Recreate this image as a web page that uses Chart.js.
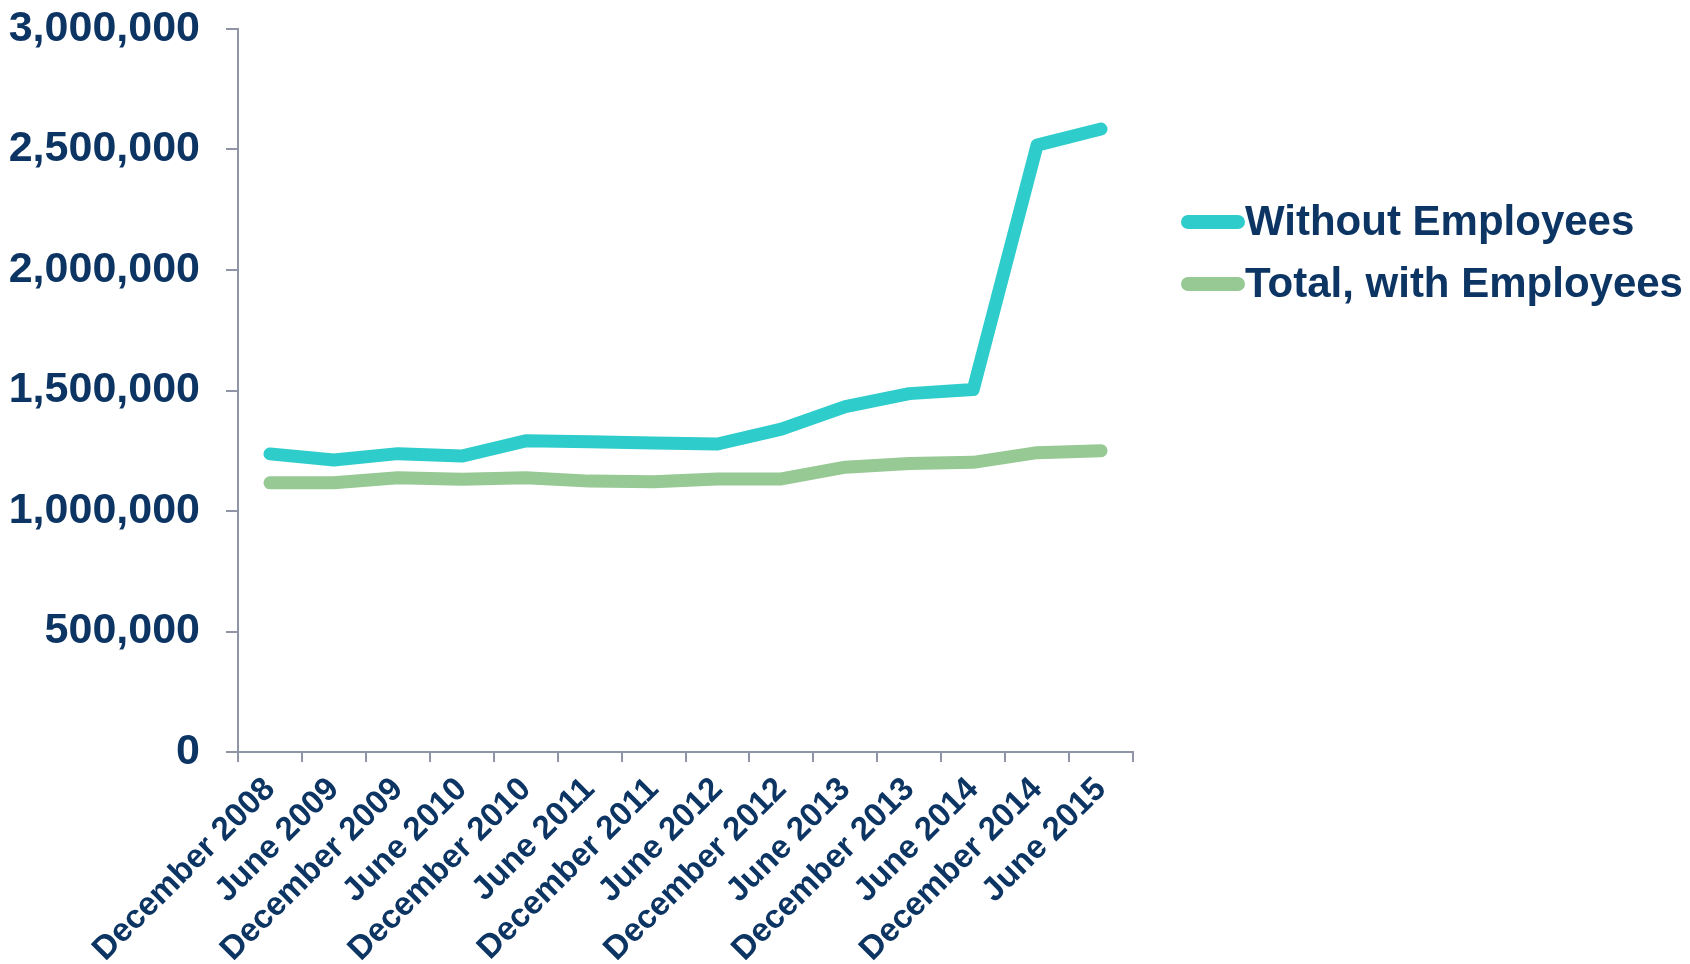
<!DOCTYPE html>
<html>
<head>
<meta charset="utf-8">
<script src="https://cdn.jsdelivr.net/npm/chart.js@4/dist/chart.umd.min.js"></script>
<style>
    html, body { margin: 0; padding: 0; background: #fff; }
    #wrap { width: 1690px; height: 964px; position: relative; }
</style>
</head>
<body>
<div id="wrap"><canvas id="employeesChart"></canvas></div>
<script>
// periods on the x axis
const periods = ['December 2008', 'June 2009', 'December 2009', 'June 2010', 'December 2010', 'June 2011',
    'December 2011', 'June 2012', 'December 2012', 'June 2013', 'December 2013', 'June 2014', 'December 2014', 'June 2015'];

// series values
const withoutEmployees = [1237000, 1212000, 1238000, 1228000, 1291000, 1287000, 1282000, 1278000, 1340000, 1433000, 1487000, 1504000, 2518000, 2585000];
const totalWithEmployees = [1117000, 1117000, 1138000, 1132000, 1138000, 1124000, 1121000, 1133000, 1133000, 1182000, 1197000, 1202000, 1242000, 1250000];

// y axis range
const yMin = 0;
const yMax = 3000000;
const yStep = 500000;

const navy = '#0d3563';
const axisGrey = '#8f94a6';
const fontFamily = '"Liberation Sans", Arial, sans-serif';

// legend drawn on the right of the plot
const sideLegend = {
    id: 'sideLegend',
    afterDraw(chart) {
        const ctx = chart.ctx;
        const x0 = 1181, lineLen = 64, rowGap = 62;
        let y = 222;
        ctx.save();
        chart.data.datasets.forEach(ds => {
            ctx.strokeStyle = ds.borderColor;
            ctx.lineWidth = 14;
            ctx.lineCap = 'round';
            ctx.beginPath();
            ctx.moveTo(x0 + 7, y);
            ctx.lineTo(x0 + lineLen - 7, y);
            ctx.stroke();
            ctx.fillStyle = navy;
            ctx.font = 'bold 42px ' + fontFamily;
            ctx.textBaseline = 'middle';
            ctx.textAlign = 'left';
            ctx.fillText(ds.label, x0 + lineLen, y + 1);
            y += rowGap;
        });
        ctx.restore();
    }
};

const ctx = document.getElementById('employeesChart').getContext('2d');
new Chart(ctx, {
    type: 'line',
    data: {
        labels: periods,
        datasets: [
            { label: 'Without Employees', data: withoutEmployees, borderColor: '#2ecccb', backgroundColor: '#2ecccb', borderWidth: 13, borderCapStyle: 'round', borderJoinStyle: 'round', pointRadius: 0, tension: 0 },
            { label: 'Total, with Employees', data: totalWithEmployees, borderColor: '#96c994', backgroundColor: '#96c994', borderWidth: 13, borderCapStyle: 'round', borderJoinStyle: 'round', pointRadius: 0, tension: 0 }
        ]
    },
    options: {
        responsive: true,
        maintainAspectRatio: false,
        animation: false,
        layout: { padding: { top: 29, left: 6, right: 557, bottom: 0 } },
        plugins: { legend: { display: false }, tooltip: { enabled: false } },
        scales: {
            x: {
                offset: true,
                border: { color: axisGrey, width: 2 },
                grid: { offset: true, drawOnChartArea: false, drawTicks: true, tickLength: 10, color: axisGrey, lineWidth: 2 },
                ticks: { color: navy, font: { family: fontFamily, size: 33, weight: 'bold' }, minRotation: 45, maxRotation: 45, autoSkip: false, padding: 8 },
                afterFit: scale => { scale.height = 212; scale.paddingLeft = 0; scale.paddingRight = 0; }
            },
            y: {
                min: yMin,
                max: yMax,
                border: { color: axisGrey, width: 2 },
                grid: { drawOnChartArea: false, drawTicks: true, tickLength: 12, color: axisGrey, lineWidth: 2 },
                ticks: { stepSize: yStep, color: navy, padding: 26, font: { family: fontFamily, size: 43, weight: 'bold' }, callback: v => v.toLocaleString('en-US') },
                afterFit: scale => { scale.width = 232; scale.paddingTop = 0; scale.paddingBottom = 0; }
            }
        }
    },
    plugins: [sideLegend]
});
</script>
</body>
</html>
